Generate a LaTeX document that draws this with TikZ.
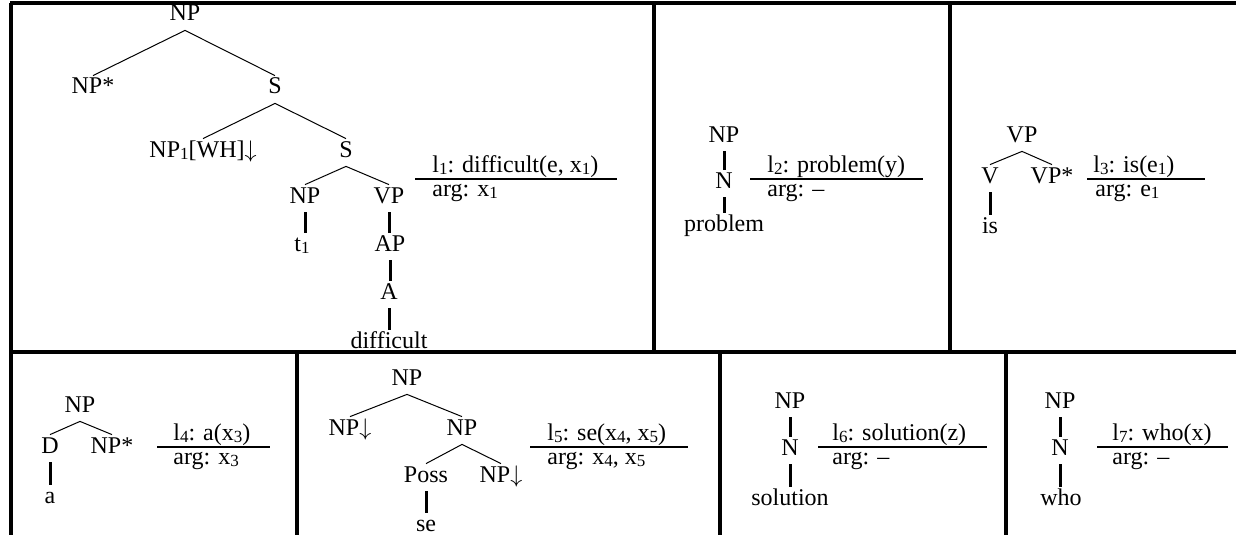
\documentclass[tikz,border=0pt]{standalone}
\usepackage{fontspec}
\setmainfont{Liberation Serif}
\newcommand\sbs[1]{\raisebox{-1.3pt}{\fontsize{8.5}{9}\selectfont #1}}
\begin{document}
\begin{tikzpicture}[x=0.5pt,y=-0.5pt,
  tn/.style={font=\fontsize{12}{14}\selectfont, anchor=base, inner xsep=0pt, inner ysep=1pt, text height=8pt, text depth=3.5pt},
  lt/.style={font=\fontsize{12}{14}\selectfont, anchor=base west, inner sep=0pt},
  br/.style={line width=0.5pt},
  un/.style={line width=1.5pt},
  rl/.style={line width=1.1pt},
  bd/.style={line width=1.6pt}]
\useasboundingbox (0,0) rectangle (1236,535);
% borders
\coordinate (b1) at (10,3);
\coordinate (b2) at (1236,3);
\coordinate (b3) at (10,352);
\coordinate (b4) at (1236,352);
\coordinate (v1a) at (11,3);   \coordinate (v1b) at (11,535);
\coordinate (v2a) at (654,3);  \coordinate (v2b) at (654,352);
\coordinate (v3a) at (950,3);  \coordinate (v3b) at (950,352);
\coordinate (v4a) at (297,352); \coordinate (v4b) at (297,535);
\coordinate (v5a) at (720,352); \coordinate (v5b) at (720,535);
\coordinate (v6a) at (1006,352); \coordinate (v6b) at (1006,535);
\draw[bd] (b1) -- (b2);
\draw[bd] (b3) -- (b4);
\draw[bd] (v1a) -- (v1b);
\draw[bd] (v2a) -- (v2b);
\draw[bd] (v3a) -- (v3b);
\draw[bd] (v4a) -- (v4b);
\draw[bd] (v5a) -- (v5b);
\draw[bd] (v6a) -- (v6b);

% tree 1
\node[tn] (t1np) at (185,21) {NP};
\node[tn] (t1nps) at (93,94) {NP*};
\node[tn] (t1s) at (275,94) {S};
\node[tn] (t1wh) at (203,157) {NP\sbs{1}[WH]$\downarrow$};
\node[tn] (t1s2) at (346,157) {S};
\node[tn] (t1np2) at (305,203) {NP};
\node[tn] (t1vp) at (389,203) {VP};
\node[tn] (t1t) at (302,251) {t\sbs{1}};
\node[tn] (t1ap) at (390,251) {AP};
\node[tn] (t1a) at (389,299) {A};
\node[tn] (t1diff) at (389,348) {difficult};
\draw[br] (t1np.south) -- (t1nps.north);
\draw[br] (t1np.south) -- (t1s.north);
\draw[br] (t1s.south) -- (t1wh.north);
\draw[br] (t1s.south) -- (t1s2.north);
\draw[br] (t1s2.south) -- (t1np2.north);
\draw[br] (t1s2.south) -- (t1vp.north);
\draw[un] (t1np2.south) -- (t1np2.south |- t1t.north);
\draw[un] (t1vp.south) -- (t1vp.south |- t1ap.north);
\draw[un] (t1ap.south) -- (t1ap.south |- t1a.north);
\draw[un] (t1a.south) -- (t1a.south |- t1diff.north);
\node[lt] (l1a) at (432,172) {l\sbs{1}: difficult(e, x\sbs{1})};
\node[lt] (l1b) at (432,196) {arg: x\sbs{1}};
\coordinate (r1a) at (415,179); \coordinate (r1b) at (617,179);
\draw[rl] (r1a) -- (r1b);

% tree 2
\node[tn] (t2np) at (724,142) {NP};
\node[tn] (t2n) at (724,188) {N};
\node[tn] (t2w) at (724,231) {problem};
\draw[un] (t2np.south) -- (t2np.south |- t2n.north);
\draw[un] (t2n.south) -- (t2n.south |- t2w.north);
\node[lt] (l2a) at (767,172) {l\sbs{2}: problem(y)};
\node[lt] (l2b) at (767,196) {arg: \textendash};
\coordinate (r2a) at (750,179); \coordinate (r2b) at (923,179);
\draw[rl] (r2a) -- (r2b);

% tree 3
\node[tn] (t3vp) at (1022,142) {VP};
\node[tn] (t3v) at (990,183) {V};
\node[tn] (t3vps) at (1052,183) {VP*};
\node[tn] (t3is) at (990,233) {is};
\draw[br] (t3vp.south) -- (t3v.north);
\draw[br] (t3vp.south) -- (t3vps.north);
\draw[un] (t3v.south) -- (t3v.south |- t3is.north);
\node[lt] (l3a) at (1093,172) {l\sbs{3}: is(e\sbs{1})};
\node[lt] (l3b) at (1095,196) {arg: e\sbs{1}};
\coordinate (r3a) at (1087,179); \coordinate (r3b) at (1205,179);
\draw[rl] (r3a) -- (r3b);

% tree 4
\node[tn] (t4np) at (80,412) {NP};
\node[tn] (t4d) at (50,453) {D};
\node[tn] (t4nps) at (112,453) {NP*};
\node[tn] (t4a) at (50,503) {a};
\draw[br] (t4np.south) -- (t4d.north);
\draw[br] (t4np.south) -- (t4nps.north);
\draw[un] (t4d.south) -- (t4d.south |- t4a.north);
\node[lt] (l4a) at (173,440) {l\sbs{4}: a(x\sbs{3})};
\node[lt] (l4b) at (173,464) {arg: x\sbs{3}};
\coordinate (r4a) at (157,447); \coordinate (r4b) at (270,447);
\draw[rl] (r4a) -- (r4b);

% tree 5
\node[tn] (t5np) at (407,385) {NP};
\node[tn] (t5l) at (350,435) {NP$\downarrow$};
\node[tn] (t5r) at (462,435) {NP};
\node[tn] (t5poss) at (426,482) {Poss};
\node[tn] (t5r2) at (501,482) {NP$\downarrow$};
\node[tn] (t5se) at (426,531) {se};
\draw[br] (t5np.south) -- (t5l.north);
\draw[br] (t5np.south) -- (t5r.north);
\draw[br] (t5r.south) -- (t5poss.north);
\draw[br] (t5r.south) -- (t5r2.north);
\draw[un] (t5poss.south) -- (t5poss.south |- t5se.north);
\node[lt] (l5a) at (547,440) {l\sbs{5}: se(x\sbs{4}, x\sbs{5})};
\node[lt] (l5b) at (547,464) {arg: x\sbs{4}, x\sbs{5}};
\coordinate (r5a) at (530,447); \coordinate (r5b) at (688,447);
\draw[rl] (r5a) -- (r5b);

% tree 6
\node[tn] (t6np) at (790,408) {NP};
\node[tn] (t6n) at (790,455) {N};
\node[tn] (t6w) at (790,505) {solution};
\draw[un] (t6np.south) -- (t6np.south |- t6n.north);
\draw[un] (t6n.south) -- (t6n.south |- t6w.north);
\node[lt] (l6a) at (832,440) {l\sbs{6}: solution(z)};
\node[lt] (l6b) at (832,464) {arg: \textendash};
\coordinate (r6a) at (818,447); \coordinate (r6b) at (987,447);
\draw[rl] (r6a) -- (r6b);

% tree 7
\node[tn] (t7np) at (1060,408) {NP};
\node[tn] (t7n) at (1060,455) {N};
\node[tn] (t7w) at (1061,505) {who};
\draw[un] (t7np.south) -- (t7np.south |- t7n.north);
\draw[un] (t7n.south) -- (t7n.south |- t7w.north);
\node[lt] (l7a) at (1112,440) {l\sbs{7}: who(x)};
\node[lt] (l7b) at (1112,464) {arg: \textendash};
\coordinate (r7a) at (1097,447); \coordinate (r7b) at (1228,447);
\draw[rl] (r7a) -- (r7b);
\end{tikzpicture}
\end{document}
